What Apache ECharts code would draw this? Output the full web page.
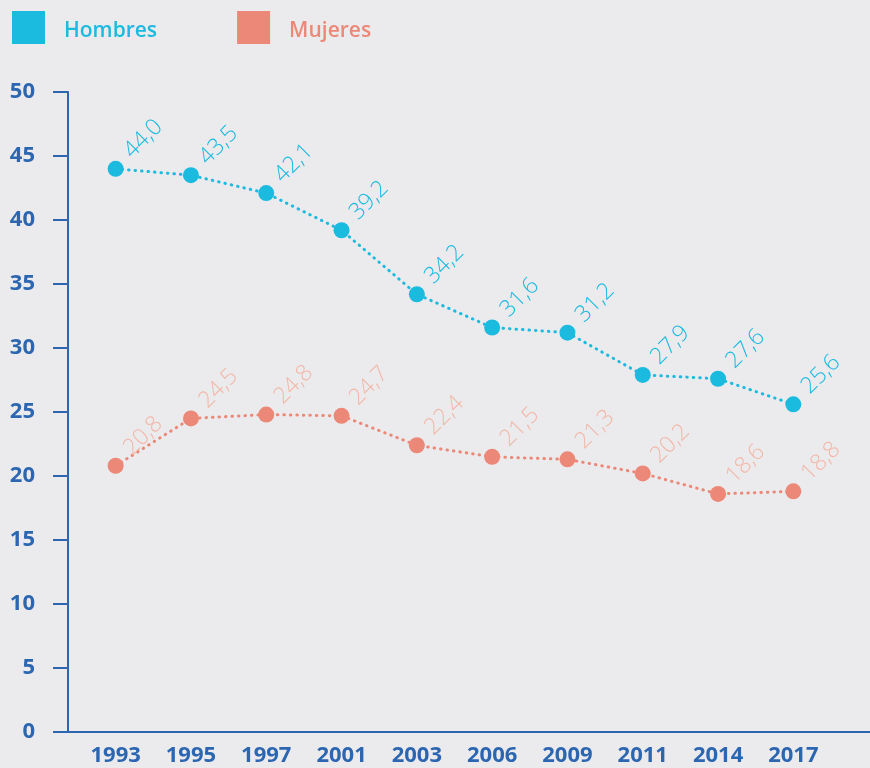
<!DOCTYPE html>
<html>
<head>
<meta charset="utf-8">
<script src="https://cdn.jsdelivr.net/npm/echarts@6/dist/echarts.min.js"></script>
<style>
html,body{margin:0;padding:0;background:#ebebee;}
#chart{width:870px;height:768px;}
</style>
</head>
<body>
<div id="chart"></div>
<script>
const years = ['1993','1995','1997','2001','2003','2006','2009','2011','2014','2017'];
const hombres = [44.0, 43.5, 42.1, 39.2, 34.2, 31.6, 31.2, 27.9, 27.6, 25.6];
const mujeres = [20.8, 24.5, 24.8, 24.7, 22.4, 21.5, 21.3, 20.2, 18.6, 18.8];
const seriesNames = ['Hombres', 'Mujeres'];
const yMin = 0, yMax = 50, yStep = 5;

const axisColor = '#2c66b1';
const cH = '#1bbadf', cM = '#ec8877', cMlab = '#f3b7a7';
const font = '"Open Sans", sans-serif';
const fmt = p => p.value.toFixed(1).replace('.', ',');

const labelCfg = color => ({
  show: true, position: [28, 2], rotate: 45, align: 'left', verticalAlign: 'bottom',
  color: color, fontFamily: font, fontSize: 23, fontWeight: 300, formatter: fmt
});

const legendRich = color => ({
  t: {color: color, fontFamily: font, fontSize: 21, fontWeight: 600, padding: [7, 0, 0, 14]}
});

const chart = echarts.init(document.getElementById('chart'));
chart.setOption({
  backgroundColor: '#ebebee',
  animation: false,
  legend: {
    left: 12, top: 11, padding: 0,
    itemWidth: 33, itemHeight: 33, itemGap: 80,
    icon: 'rect',
    formatter: name => '{t|' + name + '}',
    data: [
      {name: seriesNames[0], textStyle: {color: cH, rich: legendRich(cH)}},
      {name: seriesNames[1], textStyle: {color: cM, rich: legendRich(cM)}}
    ],
    textStyle: {fontFamily: font, fontSize: 21, fontWeight: 600}
  },
  grid: [
    {left: 78, right: 39, top: 92, bottom: 36},
    {left: 68, right: 0, top: 92, bottom: 36}
  ],
  xAxis: [
    {
      type: 'category', data: years, gridIndex: 0, boundaryGap: true,
      axisLine: {show: false}, axisTick: {show: false},
      axisLabel: {color: axisColor, fontFamily: font, fontSize: 22, fontWeight: 700, margin: 13}
    },
    {
      type: 'value', gridIndex: 1, min: 0, max: 1,
      axisLine: {show: true, lineStyle: {color: axisColor, width: 2}},
      axisTick: {show: false}, axisLabel: {show: false}, splitLine: {show: false}
    }
  ],
  yAxis: [
    {
      type: 'value', gridIndex: 0, min: yMin, max: yMax, interval: yStep, offset: 10,
      axisLine: {show: true, lineStyle: {color: axisColor, width: 2}},
      axisTick: {show: true, length: 15, lineStyle: {color: axisColor, width: 2}},
      axisLabel: {color: axisColor, fontFamily: font, fontSize: 22, fontWeight: 700, margin: 33},
      splitLine: {show: false}
    },
    {type: 'value', gridIndex: 1, show: false, min: 0, max: 1}
  ],
  series: [
    {
      name: seriesNames[0], type: 'line', data: hombres,
      xAxisIndex: 0, yAxisIndex: 0,
      color: cH, symbol: 'circle', symbolSize: 16,
      lineStyle: {color: cH, width: 3, type: [0.5, 6], cap: 'round'},
      itemStyle: {color: cH},
      label: labelCfg(cH)
    },
    {
      name: seriesNames[1], type: 'line', data: mujeres,
      xAxisIndex: 0, yAxisIndex: 0,
      color: cM, symbol: 'circle', symbolSize: 16,
      lineStyle: {color: cM, width: 3, type: [0.5, 6], cap: 'round'},
      itemStyle: {color: cM},
      label: labelCfg(cMlab)
    }
  ]
});
</script>
</body>
</html>
